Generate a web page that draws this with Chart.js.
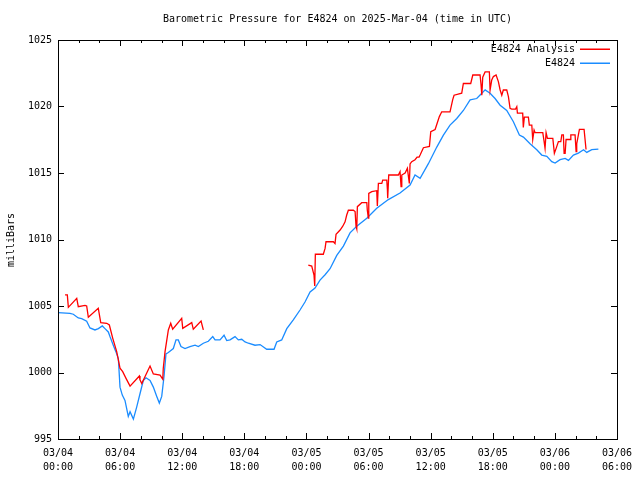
<!DOCTYPE html>
<html>
<head>
<meta charset="utf-8">
<script src="https://cdn.jsdelivr.net/npm/chart.js@4.4.1/dist/chart.umd.min.js"></script>
<style>
    html, body { margin: 0; padding: 0; background: #fff; }
    #wrap { width: 640px; height: 480px; }
</style>
</head>
<body>
<div id="wrap"><canvas id="pressureChart" width="640" height="480"></canvas></div>
<script>
// hours since 03/04 00:00 UTC
const tickDates = ['03/04', '03/04', '03/04', '03/04', '03/05', '03/05', '03/05', '03/05', '03/06', '03/06'];
const tickTimes = ['00:00', '06:00', '12:00', '18:00', '00:00', '06:00', '12:00', '18:00', '00:00', '06:00'];

const stationHours = [
    0, 1.16, 1.48, 1.96, 2.29, 2.77, 3.09, 3.57, 3.9, 4.28, 4.54, 4.86, 5.02, 5.34, 5.6, 5.83,
    5.99, 6.21, 6.47, 6.79, 6.96, 7.28, 7.6, 7.92, 8.24, 8.5, 8.89, 9.21, 9.54, 9.79, 10.02,
    10.24, 10.43, 10.66, 11.14, 11.4, 11.62, 11.88, 12.27, 12.75, 13.24, 13.56, 14.04, 14.52,
    14.95, 15.17, 15.65, 16.04, 16.3, 16.62, 17.1, 17.42, 17.75, 18.07, 18.39, 19.03, 19.52,
    20.16, 20.87, 21.13, 21.61, 22.1, 22.73, 23.38, 23.86, 24.35, 24.83, 25.31, 25.8, 26.28,
    26.93, 27.57, 28.21, 28.86, 29.83, 30.79, 31.91, 33.04, 34.01, 34.49, 34.98, 35.78, 36.59,
    37.23, 37.87, 38.52, 39.16, 39.81, 40.45, 40.94, 41.26, 41.74, 42.22, 42.71, 43.35, 43.99,
    44.57, 44.96, 45.6, 46.25, 46.73, 47.22, 47.7, 48.02, 48.5, 48.99, 49.31, 49.79, 50.27,
    50.77, 51.08, 51.56, 52.2
];
const stationPressure = [
    1004.5, 1004.45, 1004.38, 1004.1, 1004.05, 1003.85, 1003.35, 1003.2, 1003.3, 1003.5, 1003.3,
    1003.05, 1002.7, 1002.05, 1001.55, 1001.05, 998.9, 998.3, 997.9, 996.7, 997.05, 996.5, 997.4,
    998.4, 999.4, 999.6, 999.4, 998.9, 998.2, 997.7, 998.2, 999.7, 1001.4, 1001.5, 1001.8, 1002.45,
    1002.45, 1001.95, 1001.8, 1001.95, 1002.05, 1001.95, 1002.2, 1002.35, 1002.7, 1002.45, 1002.45,
    1002.8, 1002.4, 1002.45, 1002.7, 1002.45, 1002.5, 1002.3, 1002.2, 1002.05, 1002.1, 1001.75,
    1001.75, 1002.3, 1002.45, 1003.3, 1003.95, 1004.7, 1005.3, 1006.05, 1006.35, 1006.95, 1007.35,
    1007.8, 1008.8, 1009.5, 1010.5, 1011.0, 1011.6, 1012.35, 1013.0, 1013.5, 1014.1, 1014.85,
    1014.6, 1015.7, 1016.95, 1017.85, 1018.6, 1019.1, 1019.7, 1020.5, 1020.6, 1021.0, 1021.25,
    1021.0, 1020.6, 1020.1, 1019.7, 1018.85, 1017.85, 1017.7, 1017.2, 1016.75, 1016.35, 1016.25,
    1015.85, 1015.75, 1016.0, 1016.1, 1015.95, 1016.35, 1016.5, 1016.75, 1016.55, 1016.75, 1016.8
];

const analysisHours = [
    0.68, 0.9, 1.0, 1.81, 1.96, 2.61, 2.77, 2.93, 3.89, 4.13, 4.71, 4.96, 5.29, 5.67, 5.99, 6.25,
    6.57, 6.96, 7.86, 7.92, 8.09, 8.89, 9.21, 9.86, 10.12, 10.17, 10.34, 10.66, 10.89, 11.08,
    11.95, 12.05, 12.92, 13.07, 13.82, 14.04,
    19,
    24.18, 24.51, 24.73, 24.8, 24.86, 25.63, 25.8, 25.89, 26.6, 26.76, 26.86, 27.25, 27.51, 27.73,
    27.89, 28.05, 28.53, 28.7, 28.79, 28.86, 28.92, 29.34, 29.83, 29.88, 29.98, 30.02, 30.31,
    30.79, 30.85, 30.95, 31.28, 31.37, 31.76, 31.82, 31.85, 31.95, 32.88, 33.04, 33.14, 33.21,
    33.53, 33.75, 33.94, 34.01, 34.17, 34.49, 34.69, 34.88, 34.98, 35.3, 35.88, 36.01, 36.43,
    36.84, 37.07, 37.87, 38.13, 38.26, 39.0, 39.16, 39.87, 40.07, 40.77, 40.87, 40.94, 41.03,
    41.26, 41.67, 41.74, 41.9, 42.06, 42.32, 42.54, 42.71, 42.87, 43.02, 43.35, 43.51, 43.67,
    43.83, 44.2, 44.32, 44.38, 44.89, 44.95, 45.05, 45.44, 45.53, 45.77, 45.86, 45.99, 46.09,
    46.83, 46.96, 47.05, 47.15, 47.28, 47.8, 47.95, 48.12, 48.34, 48.57, 48.67, 48.82, 48.89,
    48.99, 49.08, 49.47, 49.54, 49.95, 50.05, 50.11, 50.27, 50.37, 50.82, 51.01
];
const analysisPressure = [
    1005.83, 1005.83, 1004.9, 1005.58, 1004.95, 1005.05, 1005.0, 1004.15, 1004.83, 1003.75, 1003.7,
    1003.57, 1002.57, 1001.57, 1000.32, 1000.06, 999.56, 998.98, 999.74, 999.44, 999.18, 1000.49,
    999.89, 999.8, 999.49, 1000.32, 1001.57, 1003.2, 1003.7, 1003.25, 1004.07, 1003.32, 1003.75,
    1003.25, 1003.87, 1003.2,
    null,
    1008.08, 1008.0, 1007.33, 1006.5, 1008.89, 1008.89, 1009.33, 1009.83, 1009.83, 1009.7, 1010.4,
    1010.71, 1011.0, 1011.33, 1011.84, 1012.2, 1012.2, 1012.1, 1011.0, 1010.8, 1012.47, 1012.77,
    1012.77, 1012.2, 1011.6, 1013.47, 1013.6, 1013.67, 1012.52, 1014.22, 1014.22, 1014.47, 1014.47,
    1013.77, 1013.1, 1014.85, 1014.85, 1015.1, 1013.97, 1014.85, 1015.0, 1015.35, 1014.22, 1015.68,
    1015.85, 1016.0, 1016.2, 1016.2, 1016.35, 1016.9, 1017.0, 1018.1, 1018.27, 1019.24, 1019.6,
    1019.6, 1020.52, 1020.85, 1021.0, 1021.73, 1021.73, 1022.37, 1022.37, 1021.62, 1020.85, 1022.2,
    1022.6, 1022.6, 1021.24, 1022.0, 1022.25, 1022.37, 1021.87, 1021.24, 1020.85, 1021.24, 1021.24,
    1020.74, 1019.86, 1019.8, 1019.8, 1019.98, 1019.5, 1019.5, 1018.43, 1019.2, 1019.2, 1018.6,
    1018.6, 1017.52, 1018.23, 1018.03, 1018.03, 1017.36, 1016.85, 1018.03, 1017.6, 1017.6, 1016.48,
    1016.85, 1017.36, 1017.36, 1017.86, 1017.86, 1016.48, 1016.48, 1017.52, 1017.52, 1017.86,
    1017.86, 1016.6, 1017.2, 1017.86, 1018.28, 1018.28, 1016.77
];

const seriesNames = ['E4824 Analysis', 'E4824'];
const seriesColors = ['#ff0000', '#1a8cff'];

const FONT = "'DejaVu Sans Mono', monospace";

function toPoints(xs, ys) {
    return xs.map((x, i) => ({ x: x, y: ys[i] }));
}

// gnuplot-like frame, inward ticks, title, y label and legend
const gnuplotDecor = {
    id: 'gnuplotDecor',
    afterDraw(chart) {
        const ctx = chart.ctx;
        const a = chart.chartArea;
        const xs = chart.scales.x;
        const ys = chart.scales.y;
        ctx.save();
        ctx.strokeStyle = '#000';
        ctx.lineWidth = 1;
        ctx.strokeRect(Math.round(a.left) + 0.5, Math.round(a.top) + 0.5,
            Math.round(a.right - a.left), Math.round(a.bottom - a.top));

        ctx.beginPath();
        for (let h = 0; h <= 54; h += 2) {
            const px = Math.round(xs.getPixelForValue(h)) + 0.5;
            const len = h % 6 === 0 ? 6 : 3;
            ctx.moveTo(px, a.bottom); ctx.lineTo(px, a.bottom - len);
            ctx.moveTo(px, a.top); ctx.lineTo(px, a.top + len);
        }
        for (let p = 995; p <= 1025; p += 5) {
            const py = Math.round(ys.getPixelForValue(p)) + 0.5;
            ctx.moveTo(a.left, py); ctx.lineTo(a.left + 6, py);
            ctx.moveTo(a.right, py); ctx.lineTo(a.right - 6, py);
        }
        ctx.stroke();

        ctx.fillStyle = '#000';
        ctx.font = '10px ' + FONT;
        ctx.textAlign = 'center';
        ctx.textBaseline = 'middle';
        ctx.fillText('Barometric Pressure for E4824 on 2025-Mar-04 (time in UTC)', (a.left + a.right) / 2, 19);

        ctx.save();
        ctx.translate(11, 240);
        ctx.rotate(-Math.PI / 2);
        ctx.fillText('milliBars', 0, 0);
        ctx.restore();

        ctx.textAlign = 'right';
        seriesNames.forEach((name, i) => {
            const y = 49 + i * 14;
            ctx.fillStyle = '#000';
            ctx.fillText(name, 575, y);
            ctx.fillStyle = seriesColors[i];
            ctx.fillRect(580, y - 0.5, 30, 1.5);
        });
        ctx.restore();
    }
};

new Chart(document.getElementById('pressureChart'), {
    type: 'line',
    data: {
        datasets: [{
            label: seriesNames[0],
            data: toPoints(analysisHours, analysisPressure),
            borderColor: seriesColors[0],
            borderWidth: 1.3,
            pointRadius: 0,
            spanGaps: false,
            tension: 0
        }, {
            label: seriesNames[1],
            data: toPoints(stationHours, stationPressure),
            borderColor: seriesColors[1],
            borderWidth: 1.3,
            pointRadius: 0,
            tension: 0
        }]
    },
    options: {
        responsive: false,
        animation: false,
        layout: { padding: { left: 0, right: 23, top: 40, bottom: 0 } },
        plugins: {
            legend: { display: false },
            tooltip: { enabled: false }
        },
        scales: {
            x: {
                type: 'linear',
                min: 0,
                max: 54,
                grid: { display: false, drawTicks: false },
                border: { display: false },
                afterFit: s => { s.height = 41; },
                ticks: {
                    stepSize: 6,
                    padding: 7,
                    maxRotation: 0,
                    autoSkip: false,
                    color: '#000',
                    font: { family: FONT, size: 10, lineHeight: 1.4 },
                    callback: v => [tickDates[v / 6], tickTimes[v / 6]]
                }
            },
            y: {
                min: 995,
                max: 1025,
                grid: { display: false, drawTicks: false },
                border: { display: false },
                afterFit: s => { s.width = 58; },
                ticks: {
                    stepSize: 5,
                    padding: 6,
                    color: '#000',
                    font: { family: FONT, size: 10 },
                    callback: v => String(v)
                }
            }
        }
    },
    plugins: [gnuplotDecor]
});
</script>
</body>
</html>
